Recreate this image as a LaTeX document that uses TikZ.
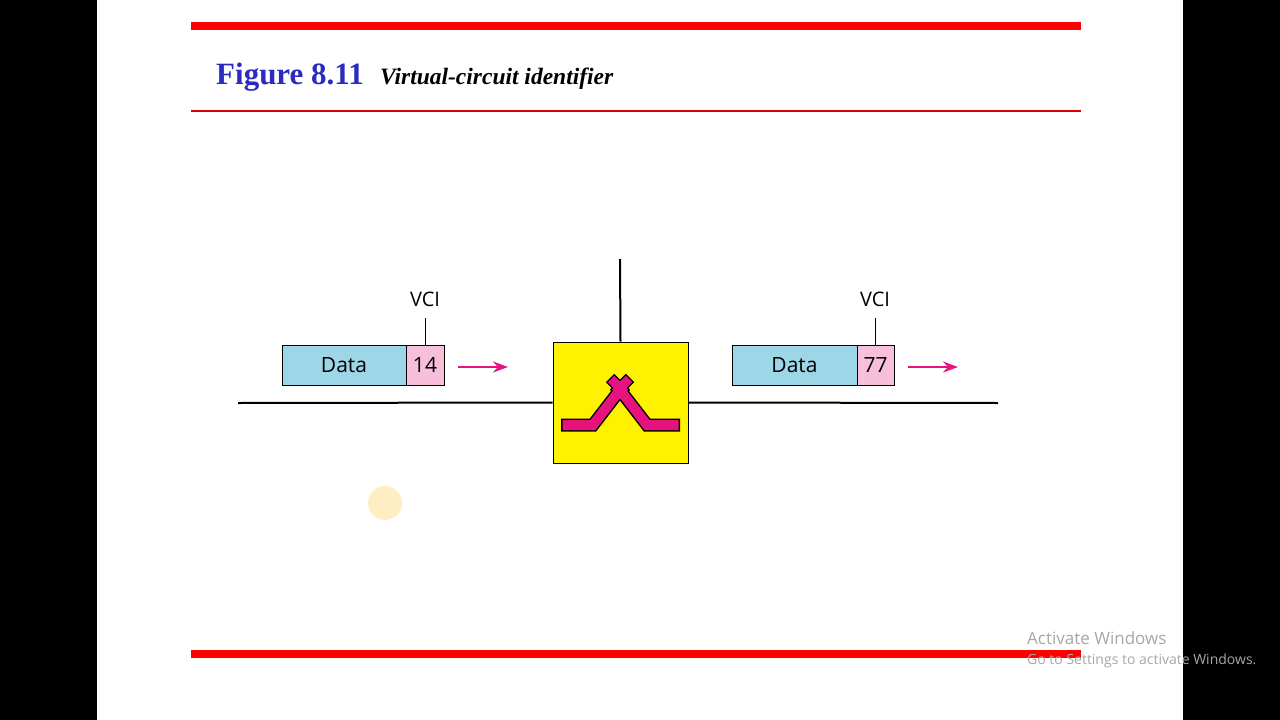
\documentclass[tikz,border=0pt]{standalone}
\usepackage{fontspec}
\usetikzlibrary{arrows.meta}
\setmainfont{Liberation Serif}
\newfontfamily\osans{Open Sans}
\definecolor{dblue}{HTML}{9DD6E6}
\definecolor{vpink}{HTML}{F7BFDA}
\definecolor{pk}{HTML}{E6127E}
\definecolor{tblue}{HTML}{2B2BC0}
\begin{document}
\begin{tikzpicture}[x=1pt,y=-1pt,
  databox/.style={draw=black,fill=dblue,minimum height=40pt,inner sep=0pt,font=\osans\fontsize{21}{21}\selectfont},
  vcibox/.style={draw=black,fill=vpink,minimum height=40pt,inner sep=0pt,font=\osans\fontsize{21}{21}\selectfont},
  lbl/.style={font=\osans\fontsize{20}{20}\selectfont,inner sep=0pt},
  parr/.style={draw=pk,line width=2pt,-{Stealth[length=15pt,width=11pt]}}]
\useasboundingbox (0,0) rectangle (1280,720);
\fill[black] (0,0) rectangle (97,720);
\fill[black] (1183,0) rectangle (1280,720);
\fill[red] (191,22) rectangle (1081,30);
\draw[red!85!black,line width=1.2pt] (191,111) -- (1081,111);
\fill[red] (191,650) rectangle (1081,658);
\node[anchor=base west,inner sep=0pt,text=tblue,font=\fontsize{31}{31}\selectfont\bfseries] (fig) at (216,84) {Figure 8.11};
\node[anchor=base west,inner sep=0pt,font=\fontsize{23.5}{23.5}\selectfont\bfseries\itshape] (cap) at (380,84) {Virtual-circuit identifier};
% switch
\node[draw=black,line width=1pt,fill=yellow,minimum width=135pt,minimum height=121pt,inner sep=0pt] (sw) at (620.5,402.5) {};
\coordinate (top) at (620,259);
\coordinate (lend) at (238,403);
\coordinate (rend) at (998,403);
\draw[line width=2pt] (top) -- (sw.north);
\draw[line width=2pt] (lend) -- (sw.west);
\draw[line width=2pt] (sw.east) -- (rend);
% symbol
\draw[line width=13pt,black,line join=miter] (561,425) -- (593,425) -- (620,390) -- (647,425) -- (680,425);
\draw[line width=12pt,black] (610,378) -- (626,394) (630,378) -- (614,394);
\draw[line width=10pt,pk,line join=miter] (562.5,425) -- (593,425) -- (620,390) -- (647,425) -- (678.5,425);
\draw[line width=9pt,pk] (611,379) -- (625,393) (629,379) -- (615,393);
% left packet
\node[databox,minimum width=124pt] (d1) at (344,365) {Data};
\node[vcibox,minimum width=38pt] (v1) at (425,365) {14};
\node[lbl] (l1) at (425,299) {VCI};
\draw (v1.north) -- ++(0,-27);
\coordinate (a1s) at (458,367); \coordinate (a1e) at (508,367);
\draw[parr] (a1s) -- (a1e);
% right packet
\node[databox,minimum width=125pt] (d2) at (794.5,365) {Data};
\node[vcibox,minimum width=37pt] (v2) at (875.5,365) {77};
\node[lbl] (l2) at (875,299) {VCI};
\draw (v2.north) -- ++(0,-27);
\coordinate (a2s) at (908,367); \coordinate (a2e) at (958,367);
\draw[parr] (a2s) -- (a2e);
% cursor highlight
\fill[yellow!50!orange,opacity=0.25] (385,503) circle (17);
% watermark
\node[anchor=west,inner sep=0pt,text=gray!70,font=\osans\fontsize{17}{17}\selectfont] (w1) at (1027,638) {Activate Windows};
\node[anchor=west,inner sep=0pt,text=gray!70,font=\osans\fontsize{14}{14}\selectfont] (w2) at (1027,661) {Go to Settings to activate Windows.};
\end{tikzpicture}
\end{document}
